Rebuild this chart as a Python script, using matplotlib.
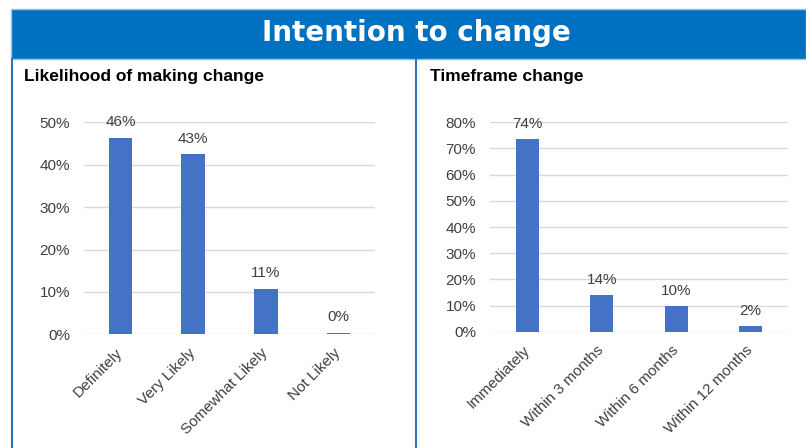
import matplotlib
matplotlib.use("Agg")
import matplotlib.pyplot as plt
from matplotlib.patches import Rectangle
from matplotlib.lines import Line2D
from matplotlib.ticker import FuncFormatter

plt.rcParams['font.family'] = ['Liberation Sans', 'DejaVu Sans']

title = "Intention to change"
left_title = "Likelihood of making change"
left_cats = ["Definitely", "Very Likely", "Somewhat Likely", "Not Likely"]
left_vals = [46.4, 42.5, 10.8, 0.4]
left_labels = ["46%", "43%", "11%", "0%"]
left_ticks = [0, 10, 20, 30, 40, 50]

right_title = "Timeframe change"
right_cats = ["Immediately", "Within 3 months", "Within 6 months", "Within 12 months"]
right_vals = [73.5, 14.0, 9.8, 2.2]
right_labels = ["74%", "14%", "10%", "2%"]
right_ticks = [0, 10, 20, 30, 40, 50, 60, 70, 80]

W, H = 806, 448
fig = plt.figure(figsize=(W / 100, H / 100), dpi=100)

def px(x, y):
    return x / W, 1 - y / H

BAR = "#4472C4"
GRID = "#d9d9d9"
TXT = "#404040"
HEAD = "#0070C0"
LINE = "#2E75B6"
FS = 11

# header
x0, y0 = px(10.7, 59)
x1, y1 = px(806, 8.7)
fig.patches.append(Rectangle((x0, y0), x1 - x0, y1 - y0, transform=fig.transFigure,
                             facecolor=HEAD, edgecolor="#9DC3E6", linewidth=1.0, zorder=0))
tx, ty = px(416, 33)
fig.text(tx, ty, title, color="white", fontsize=20, fontweight="heavy",
         family="DejaVu Sans", ha="center", va="center")

# panel borders
for xl in (12, 415.7):
    a, b = px(xl, 59)
    c, d = px(xl, 448)
    fig.lines.append(Line2D([a, c], [b, d], transform=fig.transFigure, color=LINE, linewidth=1.5))

# subtitles
sx, sy = px(24, 76)
fig.text(sx, sy, left_title, fontsize=12.5, fontweight="bold", color="black", ha="left", va="center")
sx, sy = px(430, 76)
fig.text(sx, sy, right_title, fontsize=12.5, fontweight="bold", color="black", ha="left", va="center")

def panel(rect, cats, vals, labels, ticks, width):
    ax = fig.add_axes(rect)
    xs = list(range(len(cats)))
    ax.bar(xs, vals, width=width, color=BAR, zorder=3)
    ax.set_xlim(-0.5, len(cats) - 0.5)
    ax.set_ylim(ticks[0], ticks[-1])
    ax.set_yticks(ticks)
    ax.yaxis.set_major_formatter(FuncFormatter(lambda v, p: f"{v:.0f}%"))
    ax.grid(axis="y", color=GRID, linewidth=1, zorder=0)
    ax.set_axisbelow(True)
    for s in ax.spines.values():
        s.set_visible(False)
    ax.tick_params(axis="both", length=0, labelsize=FS, colors=TXT)
    ax.tick_params(axis="y", pad=10)
    ax.set_xticks(xs)
    ax.set_xticklabels(cats, rotation=45, ha="right", va="center", rotation_mode="anchor")
    ax.tick_params(axis="x", pad=12)
    for x, v, l in zip(xs, vals, labels):
        ax.annotate(l, (x, v), xytext=(0, 6), textcoords="offset points",
                    ha="center", va="bottom", fontsize=FS, color=TXT, annotation_clip=False)
    return ax

# left axes: x 84..375, y0 334.3, top 122.3
l, b = px(84, 334.3)
panel([l, b, 291 / W, 212 / H], left_cats, left_vals, left_labels, left_ticks, 0.32)
l, b = px(490, 331.7)
panel([l, b, 298 / W, 209.4 / H], right_cats, right_vals, right_labels, right_ticks, 0.31)

fig.savefig("out.png", dpi=100, facecolor="white")
